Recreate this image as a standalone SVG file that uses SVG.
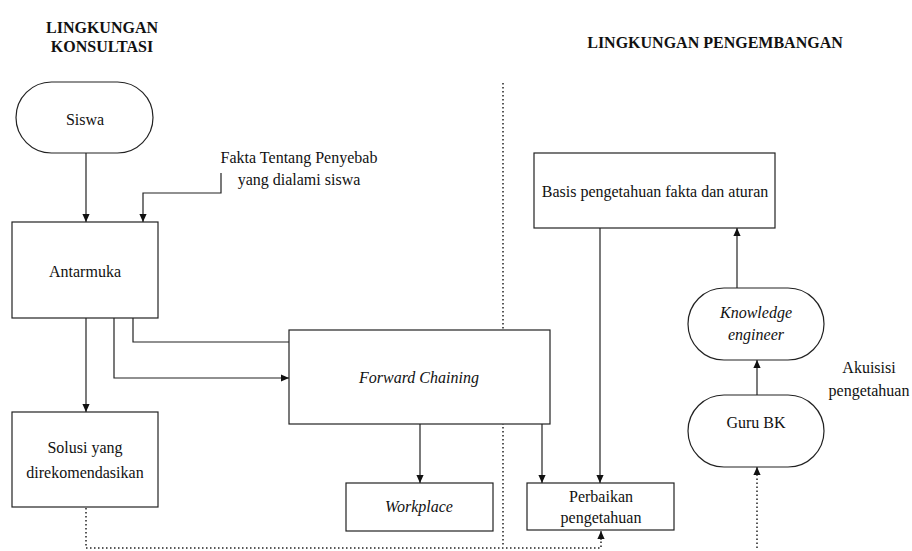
<svg xmlns="http://www.w3.org/2000/svg" width="912" height="551" viewBox="0 0 912 551">
<defs>
<style>
text{font-family:"Times New Roman","Liberation Serif",serif !important;font-size:16px;fill:#111;text-anchor:middle}
.title{font-weight:bold}
.it{font-style:italic}
.box{fill:#fff;stroke:#222;stroke-width:1.2}
.ln{fill:none;stroke:#222;stroke-width:1.2}
.dot{fill:none;stroke:#222;stroke-width:1.5;stroke-dasharray:1.5 2.5}
</style>
<marker id="ah" viewBox="0 0 10 10" refX="10" refY="5" markerWidth="8" markerHeight="8" markerUnits="userSpaceOnUse" orient="auto"><path d="M0,0.5 L10,5 L0,9.5 Z" fill="#111"/></marker>
</defs>
<rect width="912" height="551" fill="#fff"/>
<g id="titles">
<text class="title" font-family="Times New Roman" x="102" y="33">LINGKUNGAN</text>
<text class="title" font-family="Times New Roman" x="102" y="52">KONSULTASI</text>
<text class="title" font-family="Times New Roman" x="715" y="48">LINGKUNGAN PENGEMBANGAN</text>
</g>
<g id="connectors">
<line class="dot" x1="503" y1="83" x2="503" y2="546"/>
<path class="dot" d="M86,508 V548 H601 V540"/>
<path class="dot" d="M757,548 V476"/>
<path class="ln" d="M601,540 V531" marker-end="url(#ah)"/>
<path class="ln" d="M757,476 V467" marker-end="url(#ah)"/>
<path class="ln" d="M86,153 V222" marker-end="url(#ah)"/>
<path class="ln" d="M221,173 V193 H143 V222" marker-end="url(#ah)"/>
<path class="ln" d="M86,318 V412" marker-end="url(#ah)"/>
<path class="ln" d="M114,318 V378 H289" marker-end="url(#ah)"/>
<path class="ln" d="M133,318 V342 H289"/>
<path class="ln" d="M420,424 V483" marker-end="url(#ah)"/>
<path class="ln" d="M542,424 V483" marker-end="url(#ah)"/>
<path class="ln" d="M600,228 V483" marker-end="url(#ah)"/>
<path class="ln" d="M737,288 V228" marker-end="url(#ah)"/>
<path class="ln" d="M757,395 V360" marker-end="url(#ah)"/>
</g>
<g id="siswa">
<rect class="box" x="16" y="82" width="137" height="71" rx="35.5"/>
<text font-family="Times New Roman" x="85" y="125">Siswa</text>
</g>
<g id="fakta">
<text font-family="Times New Roman" x="299" y="163">Fakta Tentang Penyebab</text>
<text font-family="Times New Roman" x="299" y="185">yang dialami siswa</text>
</g>
<g id="antarmuka">
<rect class="box" x="12" y="222" width="146" height="96"/>
<text font-family="Times New Roman" x="85" y="277">Antarmuka</text>
</g>
<g id="solusi">
<rect class="box" x="12" y="412" width="146" height="95"/>
<text font-family="Times New Roman" x="85" y="453">Solusi yang</text>
<text font-family="Times New Roman" x="85" y="478">direkomendasikan</text>
</g>
<g id="forward-chaining">
<rect class="box" x="289" y="330" width="261" height="94"/>
<text class="it" font-family="Times New Roman" x="419" y="383">Forward Chaining</text>
</g>
<g id="workplace">
<rect class="box" x="346" y="483" width="147" height="48"/>
<text class="it" font-family="Times New Roman" x="419" y="512">Workplace</text>
</g>
<g id="perbaikan">
<rect class="box" x="527" y="483" width="147" height="47"/>
<text font-family="Times New Roman" x="601" y="502">Perbaikan</text>
<text font-family="Times New Roman" x="601" y="523">pengetahuan</text>
</g>
<g id="basis">
<rect class="box" x="534" y="153" width="241" height="75"/>
<text font-family="Times New Roman" x="655" y="197">Basis pengetahuan fakta dan aturan</text>
</g>
<g id="knowledge-engineer">
<rect class="box" x="688" y="288" width="136" height="72" rx="36"/>
<text class="it" font-family="Times New Roman" x="756" y="318">Knowledge</text>
<text class="it" font-family="Times New Roman" x="756" y="340">engineer</text>
</g>
<g id="guru-bk">
<rect class="box" x="688" y="395" width="136" height="72" rx="36"/>
<text font-family="Times New Roman" x="756" y="428">Guru BK</text>
</g>
<g id="akuisisi">
<text font-family="Times New Roman" x="869" y="373">Akuisisi</text>
<text font-family="Times New Roman" x="869" y="396">pengetahuan</text>
</g>
</svg>
